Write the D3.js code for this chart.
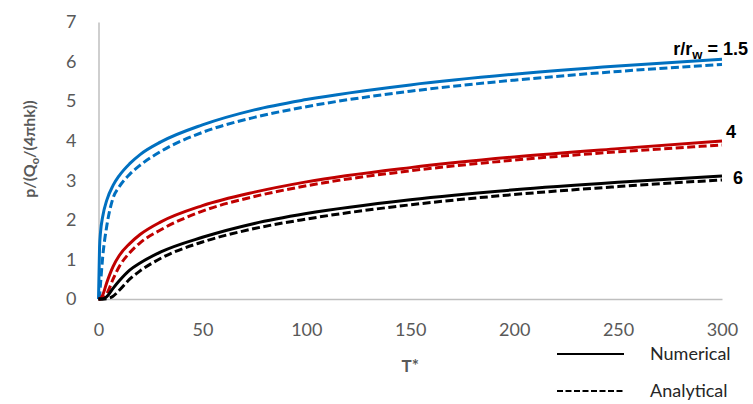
<!DOCTYPE html>
<html>
<head>
<meta charset="utf-8">
<script src="https://cdn.jsdelivr.net/npm/d3@7/dist/d3.min.js"></script>
<style>
  html, body { margin: 0; padding: 0; background: #fff; }
  svg { display: block; }
</style>
</head>
<body>
<svg id="chart" width="753" height="404"></svg>
<script>
// Dimensionless time T*
const tStar = [0, 0.5, 1, 2, 4, 7, 10, 15, 20, 30, 50, 75, 100, 150, 200, 250, 300];

// Dimensionless pressure p/(Qo/(4πhk)) for r/rw = 1.5, 4 and 6
const num15 = [0, 1.3, 1.7, 2.08, 2.5, 2.87, 3.12, 3.42, 3.65, 3.97, 4.4, 4.78, 5.04, 5.41, 5.68, 5.89, 6.06];
const ana15 = [0, 0.08, 0.4, 1.05, 1.85, 2.55, 2.84, 3.15, 3.38, 3.73, 4.21, 4.59, 4.86, 5.25, 5.53, 5.75, 5.93];
const num4  = [0, 0, 0.02, 0.1, 0.42, 0.82, 1.1, 1.4, 1.63, 1.95, 2.36, 2.7, 2.96, 3.32, 3.59, 3.8, 3.99];
const ana4  = [0, 0, 0, 0.01, 0.13, 0.5, 0.82, 1.17, 1.42, 1.75, 2.22, 2.59, 2.86, 3.24, 3.51, 3.72, 3.89];
const num6  = [0, 0, 0, 0, 0.06, 0.27, 0.46, 0.73, 0.91, 1.19, 1.56, 1.91, 2.16, 2.51, 2.76, 2.95, 3.11];
const ana6  = [0, 0, 0, 0, 0.01, 0.07, 0.22, 0.5, 0.71, 1.03, 1.44, 1.78, 2.02, 2.38, 2.64, 2.84, 3.01];

const xTicks = [0, 50, 100, 150, 200, 250, 300];
const yTicks = [0, 1, 2, 3, 4, 5, 6, 7];

const series = [
  { values: num15, color: "#0070C0", dashed: false },
  { values: ana15, color: "#0070C0", dashed: true },
  { values: num4,  color: "#C00000", dashed: false },
  { values: ana4,  color: "#C00000", dashed: true },
  { values: num6,  color: "#000000", dashed: false },
  { values: ana6,  color: "#000000", dashed: true }
];

const svg = d3.select("#chart");
const x = d3.scaleLinear().domain([0, 300]).range([98.5, 722]);
const y = d3.scaleLinear().domain([0, 7]).range([299, 22]);

const axisColor = "#BFBFBF";
const textColor = "#595959";
const tickFont = "Lato, 'Open Sans', sans-serif";

// Axes
const xAxis = svg.append("g").attr("transform", `translate(0,${y(0)})`)
  .call(d3.axisBottom(x).tickValues(xTicks).tickFormat(d3.format("d")).tickSize(0).tickPadding(24));
const yAxis = svg.append("g").attr("transform", `translate(${x(0)},0)`)
  .call(d3.axisLeft(y).tickValues(yTicks).tickFormat(d3.format("d")).tickSize(0).tickPadding(22));

[xAxis, yAxis].forEach(g => {
  g.select(".domain").attr("stroke", axisColor).attr("stroke-width", 1.5);
  g.selectAll("text")
    .attr("fill", textColor)
    .style("font-family", tickFont)
    .style("font-size", "18px");
});

// Curves
const line = d3.line()
  .x((d, i) => x(tStar[i]))
  .y(d => y(d))
  .curve(d3.curveMonotoneX);

svg.append("g").selectAll("path")
  .data(series)
  .join("path")
  .attr("d", s => line(s.values))
  .attr("fill", "none")
  .attr("stroke", s => s.color)
  .attr("stroke-width", 3)
  .attr("stroke-dasharray", s => s.dashed ? "8,3.5" : null);

// Axis titles
svg.append("text")
  .attr("x", x(150))
  .attr("y", 372)
  .attr("text-anchor", "middle")
  .attr("fill", textColor)
  .style("font-family", tickFont)
  .style("font-weight", "bold")
  .style("font-size", "17px")
  .text("T*");

const yTitle = svg.append("text")
  .attr("transform", "translate(35,149) rotate(-90)")
  .attr("text-anchor", "middle")
  .attr("fill", textColor)
  .style("font-family", tickFont)
  .style("font-weight", "bold")
  .style("font-size", "16px");
yTitle.append("tspan").text("p/(Q");
yTitle.append("tspan").attr("dy", 4).style("font-size", "11px").text("o");
yTitle.append("tspan").attr("dy", -4).text("/(4πhk))");

// Curve labels
const labelFont = "'Liberation Sans', Arial, sans-serif";
const rLabel = svg.append("text")
  .attr("x", 748)
  .attr("y", 55)
  .attr("text-anchor", "end")
  .attr("fill", "#000")
  .style("font-family", labelFont)
  .style("font-weight", "bold")
  .style("font-size", "18px");
rLabel.append("tspan").text("r/r");
rLabel.append("tspan").attr("dy", 4).style("font-size", "13px").text("w");
rLabel.append("tspan").attr("dy", -4).text(" = 1.5");

svg.append("text")
  .attr("x", 731).attr("y", 138)
  .attr("text-anchor", "middle")
  .style("font-family", labelFont).style("font-weight", "bold").style("font-size", "18px")
  .text("4");
svg.append("text")
  .attr("x", 738).attr("y", 184)
  .attr("text-anchor", "middle")
  .style("font-family", labelFont).style("font-weight", "bold").style("font-size", "18px")
  .text("6");

// Legend
const legendItems = [
  { label: "Numerical", dashed: false, y: 354 },
  { label: "Analytical", dashed: true, y: 391 }
];
const legend = svg.append("g");
legendItems.forEach(item => {
  legend.append("line")
    .attr("x1", 557).attr("x2", 624)
    .attr("y1", item.y).attr("y2", item.y)
    .attr("stroke", "#000")
    .attr("stroke-width", 2)
    .attr("stroke-dasharray", item.dashed ? "6,2.5" : null);
  legend.append("text")
    .attr("x", 650).attr("y", item.y + 6)
    .attr("fill", "#262626")
    .style("font-family", tickFont)
    .style("font-size", "18px")
    .text(item.label);
});
</script>
</body>
</html>
